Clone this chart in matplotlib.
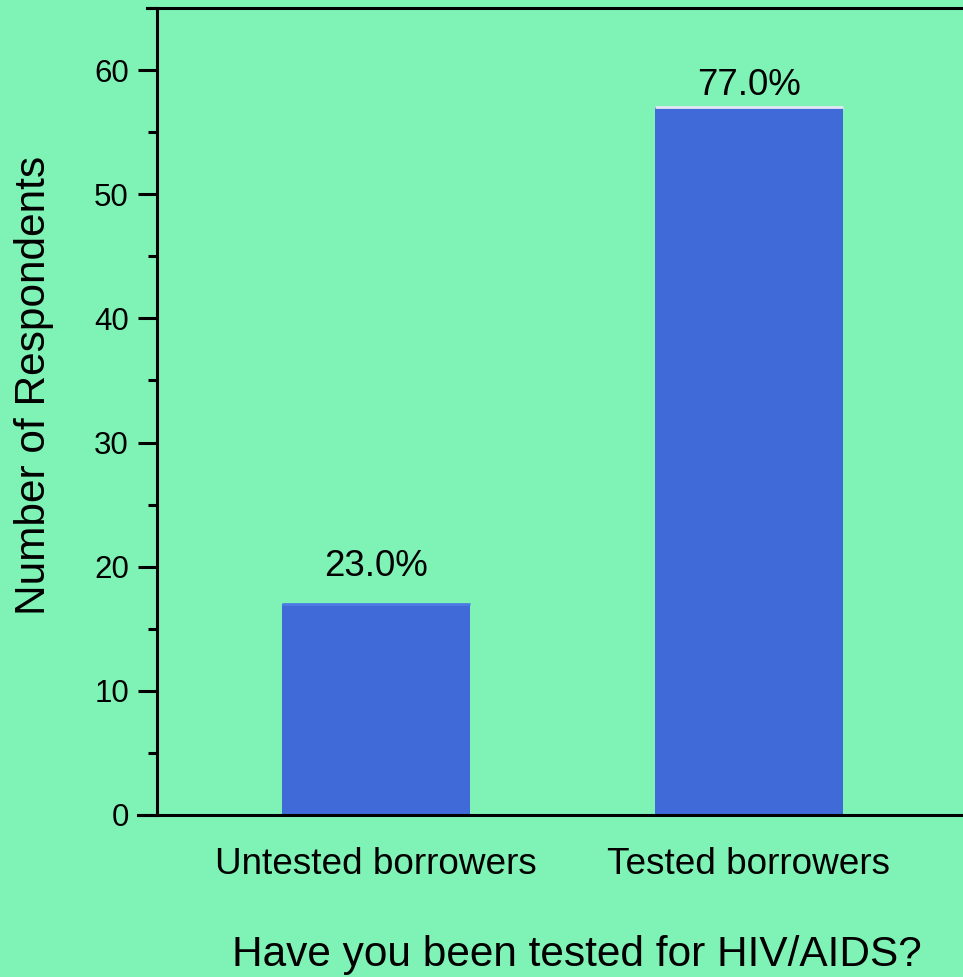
import matplotlib.pyplot as plt
from matplotlib.lines import Line2D
from matplotlib.ticker import MultipleLocator

categories = ['Untested borrowers', 'Tested borrowers']
counts = [17, 57]
pct_labels = ['23.0%', '77.0%']
label_offsets = [28, 12]  # px gap between bar top and label baseline
top_edge_colors = ['#4C7BE3', '#E4E6F3']

bg = '#7FF2B5'
blue = '#3F6AD8'

plt.rcParams['font.family'] = ['Liberation Sans', 'DejaVu Sans']

fig = plt.figure(figsize=(9.63, 9.77), dpi=100, facecolor=bg)
ax = fig.add_axes([157 / 963, 1 - 815 / 977, 806 / 963, 807 / 977], facecolor=bg)

x = range(len(categories))
ax.bar(x, counts, width=0.504, color=blue, zorder=2)
ax.hlines(counts, [i - 0.252 for i in x], [i + 0.252 for i in x],
          colors=top_edge_colors, linewidth=2, zorder=3)

for i, (c, lab, off) in enumerate(zip(counts, pct_labels, label_offsets)):
    ax.annotate(lab, (i, c), xytext=(0, off * 0.72), textcoords='offset points',
                ha='center', va='baseline', fontsize=26.4, color='black')

ax.set_xlim(-0.587, 1.574)
ax.set_ylim(0, 65)

ax.yaxis.set_major_locator(MultipleLocator(10))
ax.yaxis.set_minor_locator(MultipleLocator(5))
ax.tick_params(axis='y', which='major', length=13.7, width=2.2, pad=6.5,
               labelsize=22.5, direction='out')
ax.tick_params(axis='y', which='minor', length=6.5, width=2.2, direction='out')
ax.set_xticks(list(x))
ax.set_xticklabels(categories)
ax.tick_params(axis='x', length=0, pad=23, labelsize=26.6)

for s in ['right', 'top', 'bottom']:
    ax.spines[s].set_visible(False)
ax.spines['left'].set_linewidth(2.2)

ax.add_line(Line2D([-19 / 806, 1], [0, 0], transform=ax.transAxes,
                   color='black', linewidth=2.2, clip_on=False, zorder=4))
ax.add_line(Line2D([-10 / 806, 1], [1, 1], transform=ax.transAxes,
                   color='black', linewidth=2.2, clip_on=False, zorder=4))

fig.text(45 / 963, 1 - 385 / 977, 'Number of Respondents', rotation=90,
         rotation_mode='anchor', ha='center', va='baseline', fontsize=30.5)
fig.text(577 / 963, 1 - 966 / 977, 'Have you been tested for HIV/AIDS?',
         ha='center', va='baseline', fontsize=30.5)

fig.savefig('out.png', dpi=100, facecolor=bg)
